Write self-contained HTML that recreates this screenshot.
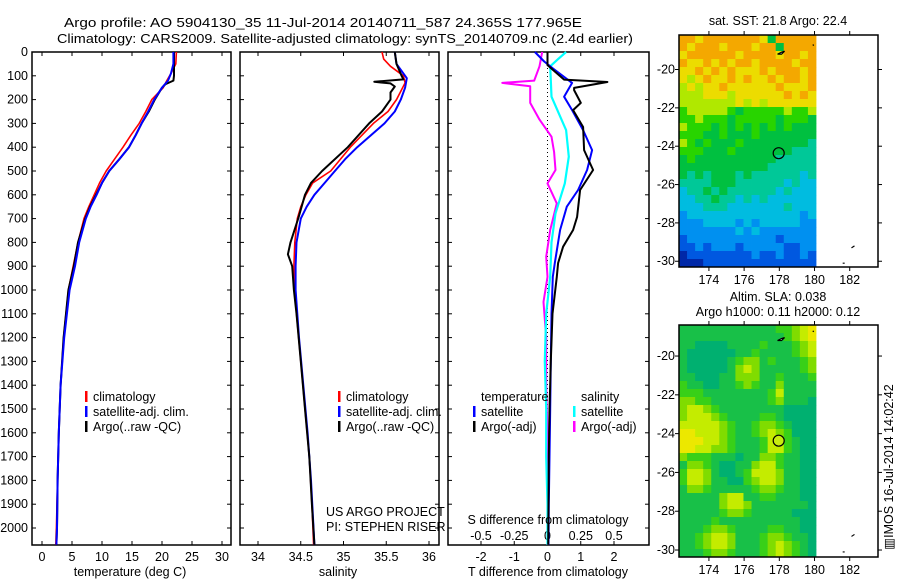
<!DOCTYPE html>
<html><head><meta charset="utf-8"><style>
body{margin:0;background:#fff}
svg{display:block}
text{font-family:"Liberation Sans",sans-serif;font-size:12.5px;fill:#000}
</style></head><body>
<svg id="c" width="900" height="580" viewBox="0 0 900 580">
<text x="64" y="27" font-size="14.5" textLength="518" lengthAdjust="spacingAndGlyphs">Argo profile: AO 5904130_35 11-Jul-2014 20140711_587 24.365S 177.965E</text>
<text x="57" y="43" font-size="14.5" textLength="576" lengthAdjust="spacingAndGlyphs">Climatology: CARS2009. Satellite-adjusted climatology: synTS_20140709.nc (2.4d earlier)</text>
<g id="g"></g>
</svg>
<script>
// ---- depth-profile data ----
const tClimDepth=[0,50,90,120,150,200,250,300,350,400,450,500,550,600,650,700,800,900,1000,1200,1400,1600,1800,2000,2070];
const tClim=[22.4,22.3,21.5,20.8,20.2,18.3,17.3,16.2,14.8,13.5,12.1,10.7,9.6,8.7,7.8,7.0,6.0,5.2,4.4,3.6,3.1,2.8,2.6,2.4,2.3];
const tSat=[21.9,21.9,21.5,21.0,20.0,18.7,17.7,16.6,15.6,14.5,12.9,11.2,10.0,9.1,8.1,7.3,6.2,5.5,4.6,3.7,3.1,2.8,2.6,2.5,2.4];
const tArgoDepth=[0,50,100,120,135,150,200,250,300,350,400,450,500,550,600,650,700,800,900,1000,1200,1400,1600,1800,2000,2070];
const tArgo=[22.0,22.0,22.0,21.9,20.6,20.0,18.8,17.8,16.6,15.6,14.5,12.9,11.2,10.0,9.0,8.0,7.2,6.0,5.3,4.4,3.6,3.1,2.8,2.6,2.5,2.4];
const sClimDepth=[0,30,60,100,130,200,250,300,400,500,550,600,650,700,800,900,1000,1100,1300,1500,1700,1900,2070];
const sClim=[35.45,35.47,35.55,35.70,35.72,35.62,35.52,35.35,35.08,34.85,34.64,34.56,34.50,34.46,34.43,34.42,34.43,34.45,34.50,34.55,34.60,34.63,34.65];
const sSatDepth=[0,50,80,110,150,200,250,300,400,450,500,550,600,650,700,800,900,1000,1200,1400,1600,1800,2070];
const sSat=[35.60,35.62,35.68,35.74,35.72,35.67,35.60,35.48,35.16,35.02,34.90,34.78,34.66,34.57,34.50,34.45,34.44,34.44,34.48,34.53,34.58,34.62,34.66];
const sArgoDepth=[0,50,100,115,125,132,145,170,200,250,300,400,500,550,600,700,800,850,900,1000,1100,1300,1500,1700,1900,2070];
const sArgo=[35.60,35.62,35.68,35.70,35.36,35.55,35.60,35.55,35.55,35.45,35.30,35.05,34.75,34.62,34.55,34.47,34.38,34.35,34.40,34.42,34.45,34.50,34.55,34.60,34.63,34.66];
const dtSatDepth=[0,40,70,130,188,244,328,412,496,580,650,748,887,945,1100,1300,1500,1700,1900,2070];
const dtSat=[-0.38,-0.1,0.17,0.74,0.5,0.74,1.07,1.34,1.19,0.92,0.58,0.38,0.22,0.16,0.12,0.1,0.08,0.06,0.04,0.03];
const dtArgoDepth=[0,55,116,126,151,160,214,244,315,412,496,580,693,748,818,887,945,1100,1300,1500,1700,1900,2070];
const dtArgo=[0,0,0.5,1.8,0.8,0.8,1.0,0.77,1.07,1.1,1.37,0.98,0.89,0.77,0.47,0.32,0.28,0.15,0.1,0.06,0.04,0.03,0.02];
const dsSatDepth=[0,30,60,188,328,440,552,678,800,945,1100,1300,1500,1700,1900,2070];
const dsSat=[0.14,0.08,0.02,0.03,0.14,0.16,0.13,0.06,0.03,0.02,-0.01,-0.02,-0.01,-0.01,0,0];
const dsArgoDepth=[0,60,120,130,144,214,284,356,420,496,552,636,748,860,945,1050,1200,1400,1600,1800,2070];
const dsArgo=[-0.04,-0.06,-0.1,-0.34,-0.13,-0.13,-0.06,0.03,0.05,0.06,0,0.07,0.02,-0.01,0,-0.03,-0.01,-0.01,0,0,0];
const depthTicks=[0,100,200,300,400,500,600,700,800,900,1000,1100,1200,1300,1400,1500,1600,1700,1800,1900,2000];
const tTicks=[0,5,10,15,20,25,30];
const sTicks=[34,34.5,35,35.5,36];
const sTickLabels=["34","34.5","35","35.5","36"];
const dtTicks=[-2,-1,0,1,2];
const dsTicks=[-0.5,-0.25,0,0.25,0.5];
const dsTickLabels=["-0.5","-0.25","0","0.25","0.5"];
// ---- map data ----
const latTicks=[-20,-22,-24,-26,-28,-30];
const lonTicks=[174,176,178,180,182];
const argoLon=177.965, argoLat=-24.365;
const sstRows=["99899999998599999","98999899989959999","89999998999989989","98898989989999899","88989898889899989","87898898988989989","78788988888898889","77788878888889898","77777778787888888","67777765666667667","66766656666656665","76665656565656555","66655655565555555","76565556555555554","66655565555555444","56555555555544444","55555555555444444","54545554544444434","44445554444443433","34454544444434333","33445443434333333","33344433333334333","23333333333333323","22233332323333322","22222223232222222","12222222222212222","11212221222221122","01111111121121121","00011111111111111"];
const slaRows=["11111111111122345","11111111111112345","11000011112111234","10000001121111234","10000012331211123","10000013431111123","11000113331121112","21100112321131111","22211111111241111","33221111111231110","34432111111110000","34443211112210000","44444321123321000","55444321123432000","55544321112442100","55443321112442100","32221110113321100","13321001134421100","24431001244431100","24431100234431100","13321111123321100","11111344112211100","11111344311111110","11111233211111000","11112111111111100","11123321111221100","11234431112332110","11234431112343210","11123321112343210"];
const sstColors=["#0028a8","#0058e0","#0090f0","#00bce0","#00c898","#00c040","#28d400","#b0e800","#ecdc00","#f4a800"];
const slaColors=["#00b070","#18c048","#38d018","#80dc00","#c4ec00","#ece800"];

const NS="http://www.w3.org/2000/svg", G=document.getElementById('g');
function el(t,a,p){const e=document.createElementNS(NS,t);for(const k in a)e.setAttribute(k,a[k]);(p||G).appendChild(e);return e;}
const TOP=52,BOT=545;
const yD=d=>TOP+d*0.238;
const panels=[{x0:32,x1:231,name:'temperature-panel'},{x0:240,x1:439,name:'salinity-panel'},{x0:448,x1:649,name:'difference-panel'}];
const xT=v=>42+v*6, xS=v=>258+(v-34)*85.5, xDT=v=>547.5+v*33.25, xDS=v=>547.5+v*133;

panels.forEach((p,i)=>{
  const r=el('rect',{x:p.x0,y:TOP,width:p.x1-p.x0,height:BOT-TOP,fill:'none',stroke:'#000','stroke-width':1.5});
  
  
  depthTicks.forEach(d=>{
    el('line',{x1:p.x0,x2:p.x0+4,y1:yD(d),y2:yD(d),stroke:'#000'});
    el('line',{x1:p.x1,x2:p.x1-4,y1:yD(d),y2:yD(d),stroke:'#000'});
    if(i==0){const t=el('text',{x:28,y:yD(d)+4,'text-anchor':'end'});t.textContent=d;
      
      }
  });
});
function xticks(vals,labels,f,ly,topTicks,botTicks){
  vals.forEach((v,k)=>{const x=f(v);
    if(topTicks){el('line',{x1:x,x2:x,y1:TOP,y2:TOP+4,stroke:'#000'});}
    if(botTicks){el('line',{x1:x,x2:x,y1:BOT,y2:BOT-4,stroke:'#000'});}
    const t=el('text',{x:x,y:ly,'text-anchor':'middle'});t.textContent=labels[k];
    
    
  });
}
xticks(tTicks,tTicks.map(String),xT,561,true,true);
xticks(sTicks,sTickLabels,xS,561,true,true);
xticks(dtTicks,dtTicks.map(String),xDT,561,false,true);
xticks(dsTicks,dsTickLabels,xDS,540,true,false);
el('line',{x1:xDT(0),x2:xDT(0),y1:TOP,y2:BOT,stroke:'#000','stroke-dasharray':'1,3'});

function line(ds,vs,f,col,w,name){
  const pts=ds.map((d,k)=>f(vs[k]).toFixed(1)+','+yD(d).toFixed(1)).join(' ');
  const l=el('polyline',{points:pts,fill:'none',stroke:col,'stroke-width':w,'stroke-linejoin':'round'});
  
  
}
line(tClimDepth,tClim,xT,'#f00',1.6,'temp-climatology-line');
line(tArgoDepth,tArgo,xT,'#000',2,'temp-argo-line');
line(tClimDepth,tSat,xT,'#00f',2,'temp-satellite-line');
line(sClimDepth,sClim,xS,'#f00',1.6,'sal-climatology-line');
line(sSatDepth,sSat,xS,'#00f',2,'sal-satellite-line');
line(sArgoDepth,sArgo,xS,'#000',2,'sal-argo-line');
line(dsArgoDepth,dsArgo,xDS,'#f0f',2,'sdiff-argo-line');
line(dsSatDepth,dsSat,xDS,'#0ff',2.2,'sdiff-satellite-line');
line(dtSatDepth,dtSat,xDT,'#00f',2,'tdiff-satellite-line');
line(dtArgoDepth,dtArgo,xDT,'#000',2,'tdiff-argo-line');

function txt(x,y,s,name,anchor){const t=el('text',{x:x,y:y,'text-anchor':anchor||'start'});t.textContent=s;
  
  return t;}
function leg(x,y,col,s,name){
  const m=el('rect',{x:x-1,y:y-10,width:2.5,height:11,fill:col});
  
  
  txt(x+7,y,s,name);
}
leg(86,401,'#f00','climatology','legend-climatology');
leg(86,416,'#00f','satellite-adj. clim.','legend-satellite-adj');
leg(86,431,'#000','Argo(..raw -QC)','legend-argo');
leg(339,401,'#f00','climatology','legend2-climatology');
leg(339,416,'#00f','satellite-adj. clim.','legend2-satellite-adj');
leg(339,431,'#000','Argo(..raw -QC)','legend2-argo');
txt(481,401,'temperature','legend-temperature-header');
txt(581,401,'salinity','legend-salinity-header');
leg(474,416,'#00f','satellite','legend-t-satellite');
leg(474,431,'#000','Argo(-adj)','legend-t-argo');
leg(574,416,'#0ff','satellite','legend-s-satellite');
leg(574,431,'#f0f','Argo(-adj)','legend-s-argo');
txt(326,516,'US ARGO PROJECT','project-label');
txt(326,531,'PI: STEPHEN RISER','pi-label');
txt(548,524,'S difference from climatology','s-axis-title','middle');
txt(130,576,'temperature (deg C)','x-axis-title-temperature','middle');
txt(338,576,'salinity','x-axis-title-salinity','middle');
txt(548,576,'T difference from climatology','x-axis-title-tdiff','middle');

// ---- maps ----
const MX0=679,MX1=878,IX1=816;
function map(rows,cols,top,bot,latTop,latBot,name,circleFill){
  const xL=v=>MX0+(v-172.3)*17.6;
  const yL=v=>top+(latTop-v)*(bot-top)/(latTop-latBot);
  const nr=rows.length,nc=rows[0].length,cw=(IX1-MX0)/nc,ch=(bot-top)/nr;
  const g=el('g',{});
  
  
  rows.forEach((r,ri)=>{for(let ci=0;ci<nc;ci++){
    const c=el('rect',{x:(MX0+ci*cw).toFixed(2),y:(top+ri*ch).toFixed(2),width:(cw+0.4).toFixed(2),height:(ch+0.4).toFixed(2),fill:cols[+r[ci]]},g);
    
    
  }});
  const f=el('rect',{x:MX0,y:top,width:MX1-MX0,height:bot-top,fill:'none',stroke:'#000','stroke-width':1.5});
  
  
  latTicks.forEach(v=>{const y=yL(v);
    el('line',{x1:MX0-4,x2:MX0,y1:y,y2:y,stroke:'#000'});el('line',{x1:MX1,x2:MX1+4,y1:y,y2:y,stroke:'#000'});
    txt(675,y+4,String(v),'lat-tick-label','end');});
  lonTicks.forEach(v=>{const x=xL(v);
    el('line',{x1:x,x2:x,y1:bot,y2:bot+4,stroke:'#000'});el('line',{x1:x,x2:x,y1:top-4,y2:top,stroke:'#000'});
    txt(x,bot+17,String(v),'lon-tick-label','middle');});
  el('path',{d:`M${xL(177.9)} ${yL(-19.2)} l4 -2 l3 -1 l-3 3 z M${xL(179.9)} ${yL(-18.7)} l1 1 M${xL(182.1)} ${yL(-29.3)} l3 -2 M${xL(181.6)} ${yL(-30.1)} l2 0`,stroke:'#000',fill:'#fff','stroke-width':1.2});
  const c=el('circle',{cx:xL(argoLon),cy:yL(argoLat),r:5.5,fill:circleFill,stroke:'#000','stroke-width':1.2});
  
  
}
map(sstRows,sstColors,35,267,-18.2,-30.3,'sst-map','none');
map(slaRows,slaColors,325,557,-18.4,-30.36,'sla-map','#c8ec10');
txt(778,25,'sat. SST: 21.8 Argo: 22.4','sst-map-title','middle');
txt(778,301,'Altim. SLA: 0.038','sla-map-title','middle');
txt(778,316,'Argo h1000: 0.11 h2000: 0.12','sla-map-subtitle','middle');
const st=txt(0,0,'\u25A5IMOS 16-Jul-2014 14:02:42','imos-timestamp','middle');
st.setAttribute('transform','translate(893,467) rotate(-90)');
</script>
</body></html>
